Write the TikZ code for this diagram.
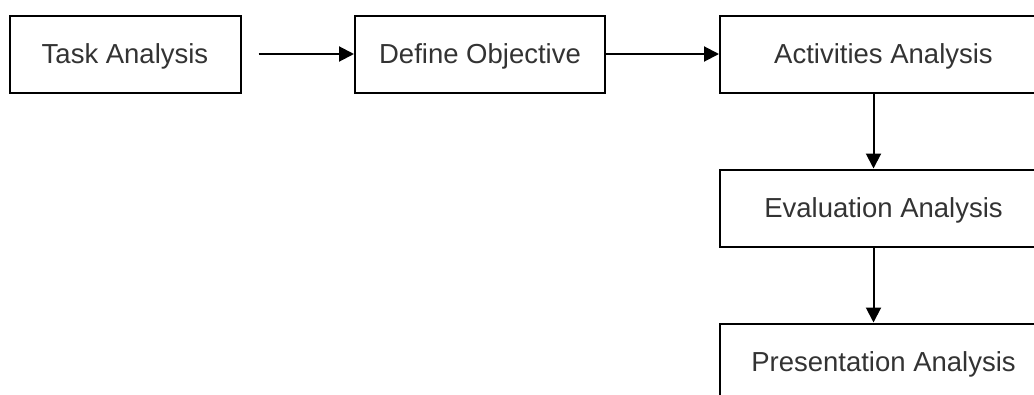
\documentclass[tikz,border=0pt]{standalone}
\usepackage{fontspec}
\setmainfont{Liberation Sans}
\usetikzlibrary{arrows.meta}
\begin{document}
\begin{tikzpicture}[x=1pt,y=-1pt,
  stagebox/.style={draw=black, line width=2pt, minimum height=77pt,
    inner sep=0pt, text height=19.5pt, text depth=0pt,
    font=\fontsize{27.5}{32}\selectfont, text=black!80},
  flow/.style={line width=2pt, -{Triangle[length=15pt,width=15pt]}}]
  \clip (0,0) rectangle (1034,394);
  \useasboundingbox (0,0) rectangle (1034,394);
  % top row
  \node[stagebox, minimum width=231pt] (task) at (125,54) {Task Analysis};
  \node[stagebox, minimum width=250pt] (define) at (480,54) {Define Objective};
  \node[stagebox, minimum width=327pt] (act) at (883.5,54) {Activities Analysis};
  % right column
  \node[stagebox, minimum width=327pt] (eval) at (883.5,208) {Evaluation Analysis};
  \node[stagebox, minimum width=327pt] (pres) at (883.5,362) {Presentation Analysis};
  % connectors
  \coordinate (start) at (258.5,54);
  \coordinate (vx) at (873.5,0);
  \draw[flow] (start) -- (define.west);
  \draw[flow] (define.east) -- (act.west);
  \draw[flow] (act.south -| vx) -- (eval.north -| vx);
  \draw[flow] (eval.south -| vx) -- (pres.north -| vx);
\end{tikzpicture}
\end{document}
